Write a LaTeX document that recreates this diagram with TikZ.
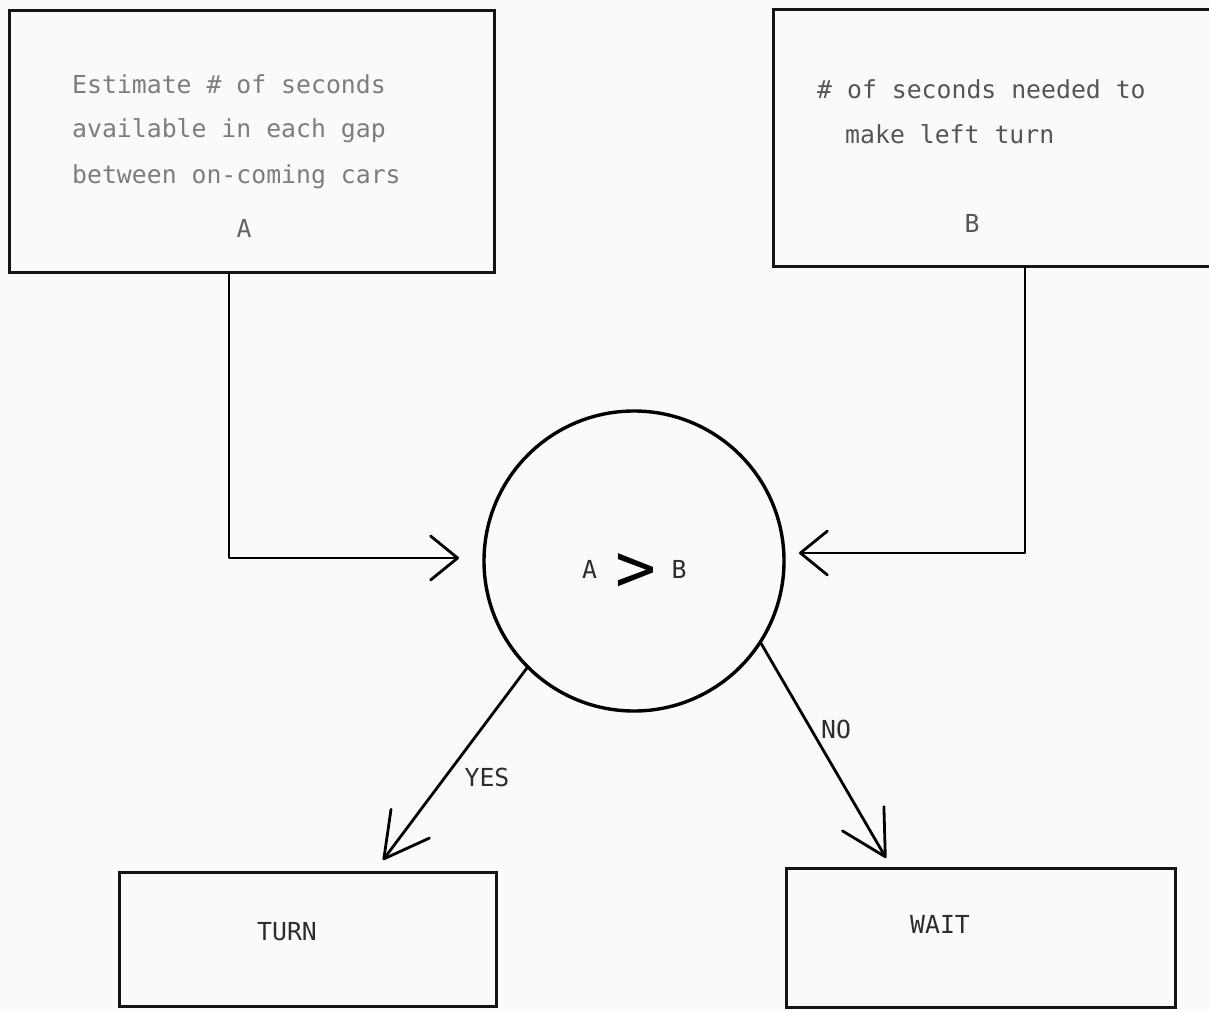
\documentclass[tikz,border=0pt]{standalone}
\usepackage{fontspec}
\newfontfamily\prt{DejaVu Sans Mono}
\usetikzlibrary{arrows.meta}
\definecolor{inkA}{RGB}{125,125,125}
\definecolor{inkB}{RGB}{85,85,85}
\definecolor{ink}{RGB}{45,45,45}
\definecolor{paper}{RGB}{250,250,250}
\tikzset{
  box/.style={draw=black!92, line width=2.6pt, rectangle, inner sep=0pt, anchor=north west},
  txt/.style={inner sep=0pt, font=\prt\fontsize{24.8}{30}\selectfont},
  conn/.style={draw=black, line width=2.8pt, line join=round, line cap=round},
  barbS/.tip={Straight Barb[length=27pt, width=44pt, line cap=round, line join=round]},
  barbL/.tip={Straight Barb[length=44pt, width=48pt, line cap=round, line join=round]},
}
\begin{document}
\begin{tikzpicture}[x=1pt,y=-1pt]
\clip (0,0) rectangle (1209,1009);
\fill[paper] (0,0) rectangle (1209,1009);
% boxes
\node[box, minimum width=485pt, minimum height=262pt] (boxA) at (8,9) {};
\node[box, minimum width=468pt, minimum height=257pt] (boxB) at (772,8) {};
\node[box, minimum width=377pt, minimum height=134pt] (turn) at (118,871) {};
\node[box, minimum width=389pt, minimum height=139pt] (wait) at (785,867) {};
\node[circle, draw=black, line width=3.4pt, minimum size=300pt, inner sep=0pt] (cmp) at (634,561) {};
% texts
\node[txt, text=inkA, anchor=base west] (a1) at (72,93) {Estimate \# of seconds};
\node[txt, text=inkA, anchor=base west] (a2) at (72,137) {available in each gap};
\node[txt, text=inkA, anchor=base west] (a3) at (72,183) {between on-coming cars};
\node[txt, text=inkA!80!black, anchor=base] (a4) at (244,237) {A};
\node[txt, text=inkB, anchor=base west] (b1) at (817,98) {\# of seconds needed to};
\node[txt, text=inkB, anchor=base west] (b2) at (845,143) {make left turn};
\node[txt, text=inkB, anchor=base] (b3) at (972,232) {B};
\node[txt, text=ink, anchor=base] (turnlbl) at (287,940) {TURN};
\node[txt, text=ink, anchor=base] (waitlbl) at (940,933) {WAIT};
\node[txt, text=ink, anchor=base] (yes) at (487,786) {YES};
\node[txt, text=ink, anchor=base] (no) at (836,738) {NO};
\node[txt, text=ink, anchor=base] (ca) at (589.5,578) {A};
\node[txt, text=ink, anchor=base] (cb) at (679,578) {B};
\node[inner sep=0pt, font=\prt\fontsize{68}{68}\selectfont, anchor=center] (gt) at (635.5,573) {>};
% connectors
\coordinate (ta) at (229,558);
\coordinate (tipA) at (459,558);
\coordinate (tb) at (1025,553);
\coordinate (tipB) at (799,553);
\coordinate (tipY) at (383,860);
\coordinate (tipN) at (886,858);
\draw[conn, -{barbS}] (boxA.south -| ta) -- (ta) -- (tipA);
\draw[conn, -{barbS}] (boxB.south -| tb) -- (tb) -- (tipB);
\draw[conn, -{barbL}] (cmp.225) -- (tipY);
\draw[conn, -{barbL}] (cmp.-33) -- (tipN);
\end{tikzpicture}
\end{document}
